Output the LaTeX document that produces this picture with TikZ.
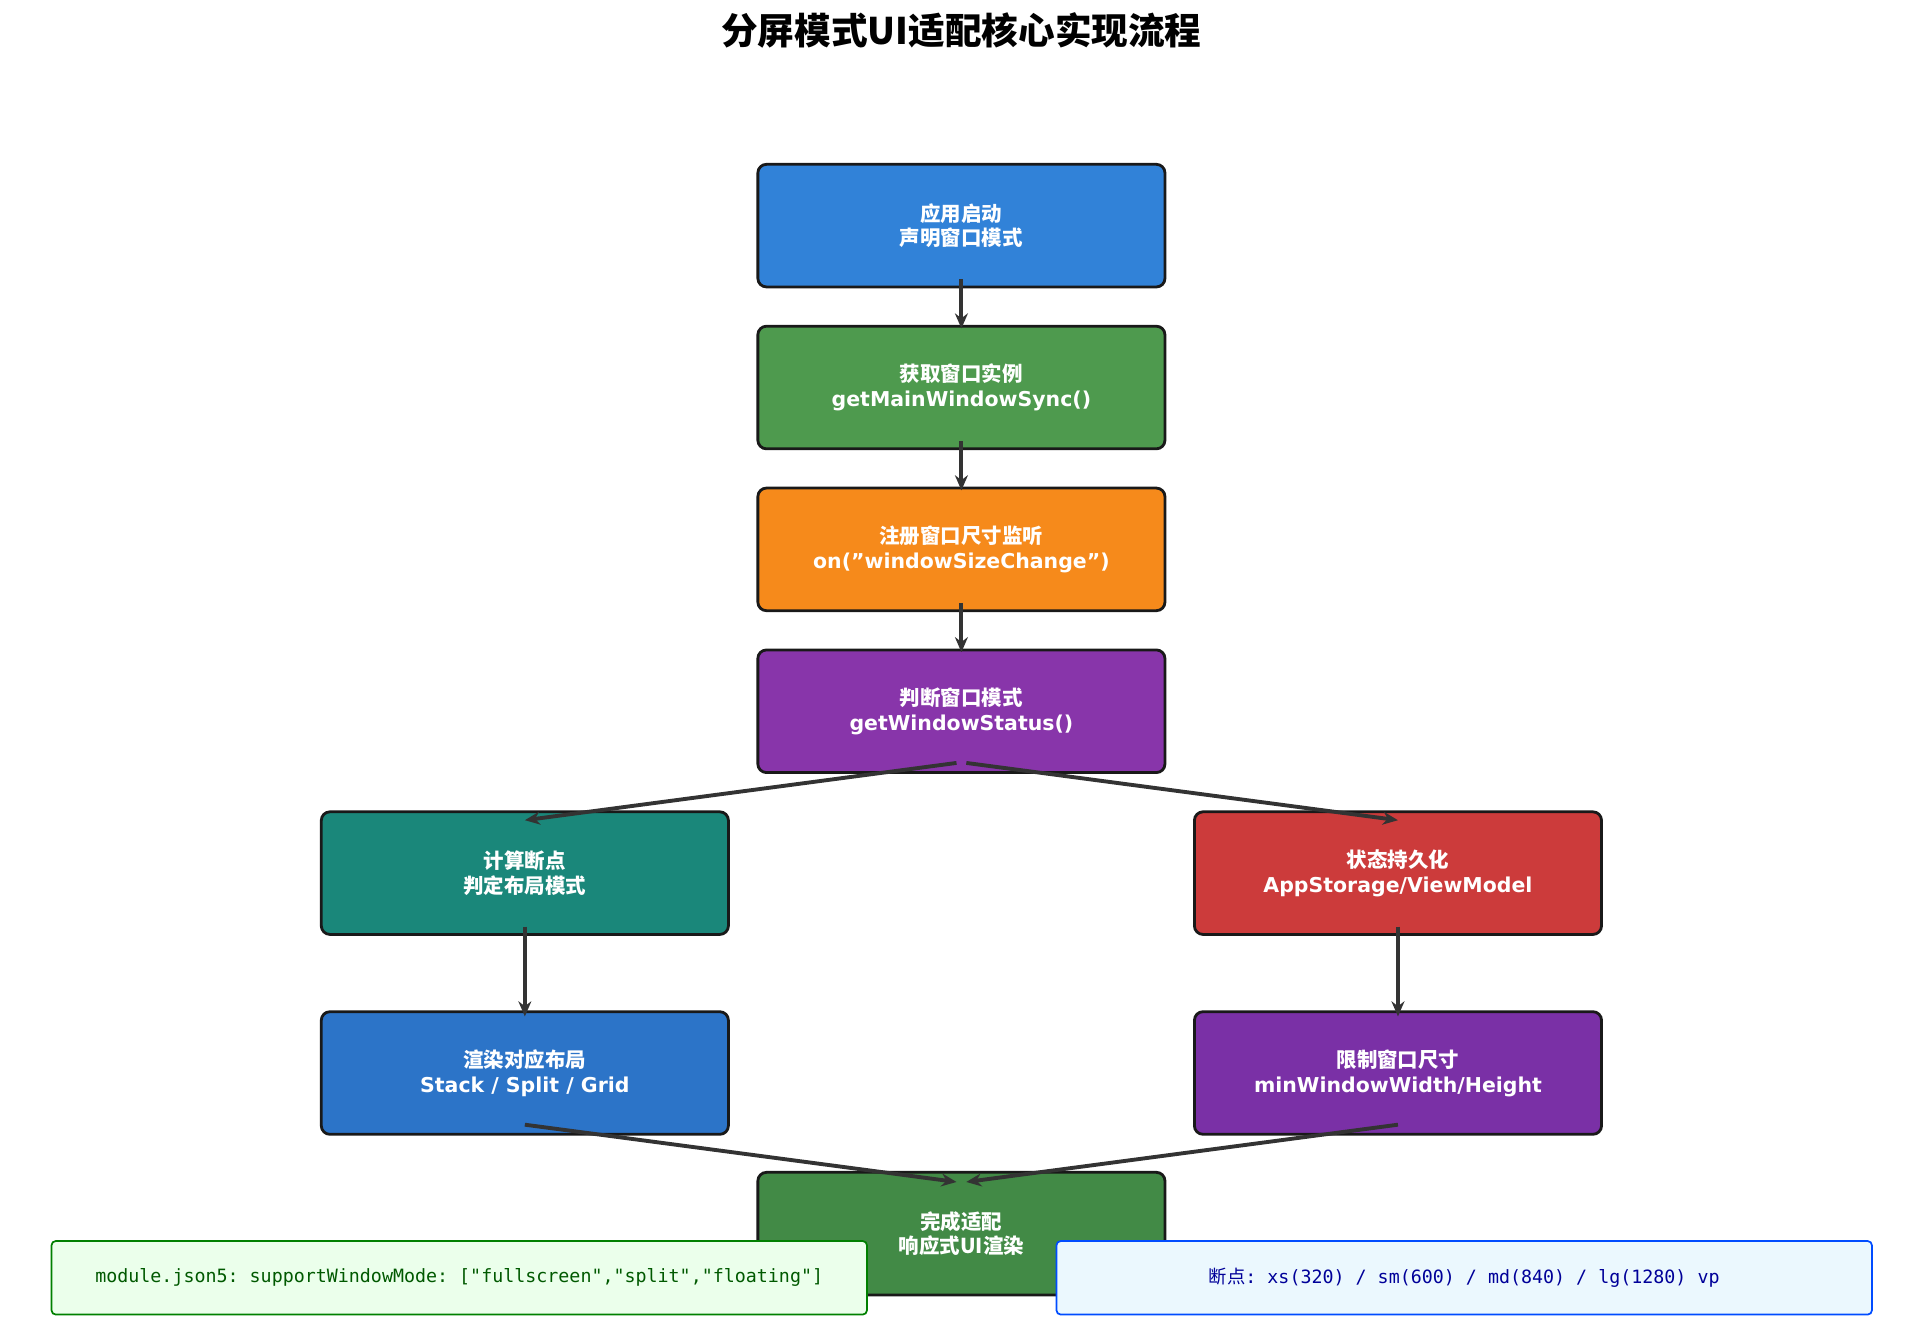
\documentclass[tikz,border=0pt]{standalone}
\usepackage{fontspec}
\setmainfont{DejaVu Sans}
\setmonofont{DejaVu Sans Mono}
\newfontfamily\cjk{Noto Sans CJK SC}
\usetikzlibrary{arrows.meta,positioning}
\definecolor{cStart}{HTML}{3182D8}
\definecolor{cGet}{HTML}{4E9A4E}
\definecolor{cReg}{HTML}{F68A1B}
\definecolor{cJudge}{HTML}{8835AA}
\definecolor{cCalc}{HTML}{1A877A}
\definecolor{cSave}{HTML}{CC3B3B}
\definecolor{cRender}{HTML}{2C74C8}
\definecolor{cLimit}{HTML}{7A30A6}
\definecolor{cDone}{HTML}{428A46}
\definecolor{cArrow}{HTML}{333333}
\tikzset{
    stage/.style={draw=black!90, line width=1.3pt, rounded corners=4pt, minimum width=6.64cm, minimum height=2cm, text=white, align=center, font=\bfseries\fontsize{9.5}{11.5}\selectfont},
    flow/.style={-{Stealth[length=7pt,width=6pt]}, line width=1.8pt, draw=cArrow},
    note/.style={rounded corners=2pt, line width=0.8pt, minimum width=13.3cm, minimum height=1.2cm, font=\ttfamily\fontsize{8.5}{10}\selectfont}
}
\begin{document}
\begin{tikzpicture}
\useasboundingbox (0,0) rectangle (31.2,-21.7);
\node[font=\cjk\bfseries\fontsize{17}{20}\selectfont] (title) at (15.68,-0.5) {分屏模式UI适配核心实现流程};
% main column
\node[stage, fill=cStart] (start) at (15.68,-3.68) {{\cjk 应用启动}\\{\cjk 声明窗口模式}};
\node[stage, fill=cGet] (getwin) at (15.68,-6.32) {{\cjk 获取窗口实例}\\getMainWindowSync()};
\node[stage, fill=cReg] (listen) at (15.68,-8.96) {{\cjk 注册窗口尺寸监听}\\on("windowSizeChange")};
\node[stage, fill=cJudge] (judge) at (15.68,-11.6) {{\cjk 判断窗口模式}\\getWindowStatus()};
% branches
\node[stage, fill=cCalc] (calc) at (8.56,-14.24) {{\cjk 计算断点}\\{\cjk 判定布局模式}};
\node[stage, fill=cSave] (save) at (22.8,-14.24) {{\cjk 状态持久化}\\AppStorage/ViewModel};
\node[stage, fill=cRender] (render) at (8.56,-17.5) {{\cjk 渲染对应布局}\\Stack / Split / Grid};
\node[stage, fill=cLimit] (limit) at (22.8,-17.5) {{\cjk 限制窗口尺寸}\\minWindowWidth/Height};
\node[stage, fill=cDone] (done) at (15.68,-20.12) {{\cjk 完成适配}\\{\cjk 响应式UI渲染}};
% notes
\node[note, draw=green!50!black, fill=green!8, text=green!35!black] (mode) at (7.49,-20.84) {module.json5: supportWindowMode: ["fullscreen","split","floating"]};
\node[note, draw=blue!70!cyan, fill=cyan!8, text=blue!60!black] (bp) at (23.88,-20.84) {{\cjk 断点}: xs(320) / sm(600) / md(840) / lg(1280) vp};
% arrows
\draw[flow] ([yshift=0.15cm]start.south) -- ([yshift=-0.06cm]getwin.north);
\draw[flow] ([yshift=0.15cm]getwin.south) -- ([yshift=-0.06cm]listen.north);
\draw[flow] ([yshift=0.15cm]listen.south) -- ([yshift=-0.06cm]judge.north);
\draw[flow] ([xshift=-0.08cm,yshift=0.18cm]judge.south) -- ([yshift=-0.16cm]calc.north);
\draw[flow] ([xshift=0.08cm,yshift=0.18cm]judge.south) -- ([yshift=-0.16cm]save.north);
\draw[flow] ([yshift=0.15cm]calc.south) -- ([yshift=-0.1cm]render.north);
\draw[flow] ([yshift=0.15cm]save.south) -- ([yshift=-0.1cm]limit.north);
\draw[flow] ([yshift=0.18cm]render.south) -- ([xshift=-0.08cm,yshift=-0.18cm]done.north);
\draw[flow] ([yshift=0.18cm]limit.south) -- ([xshift=0.08cm,yshift=-0.18cm]done.north);
\end{tikzpicture}
\end{document}
